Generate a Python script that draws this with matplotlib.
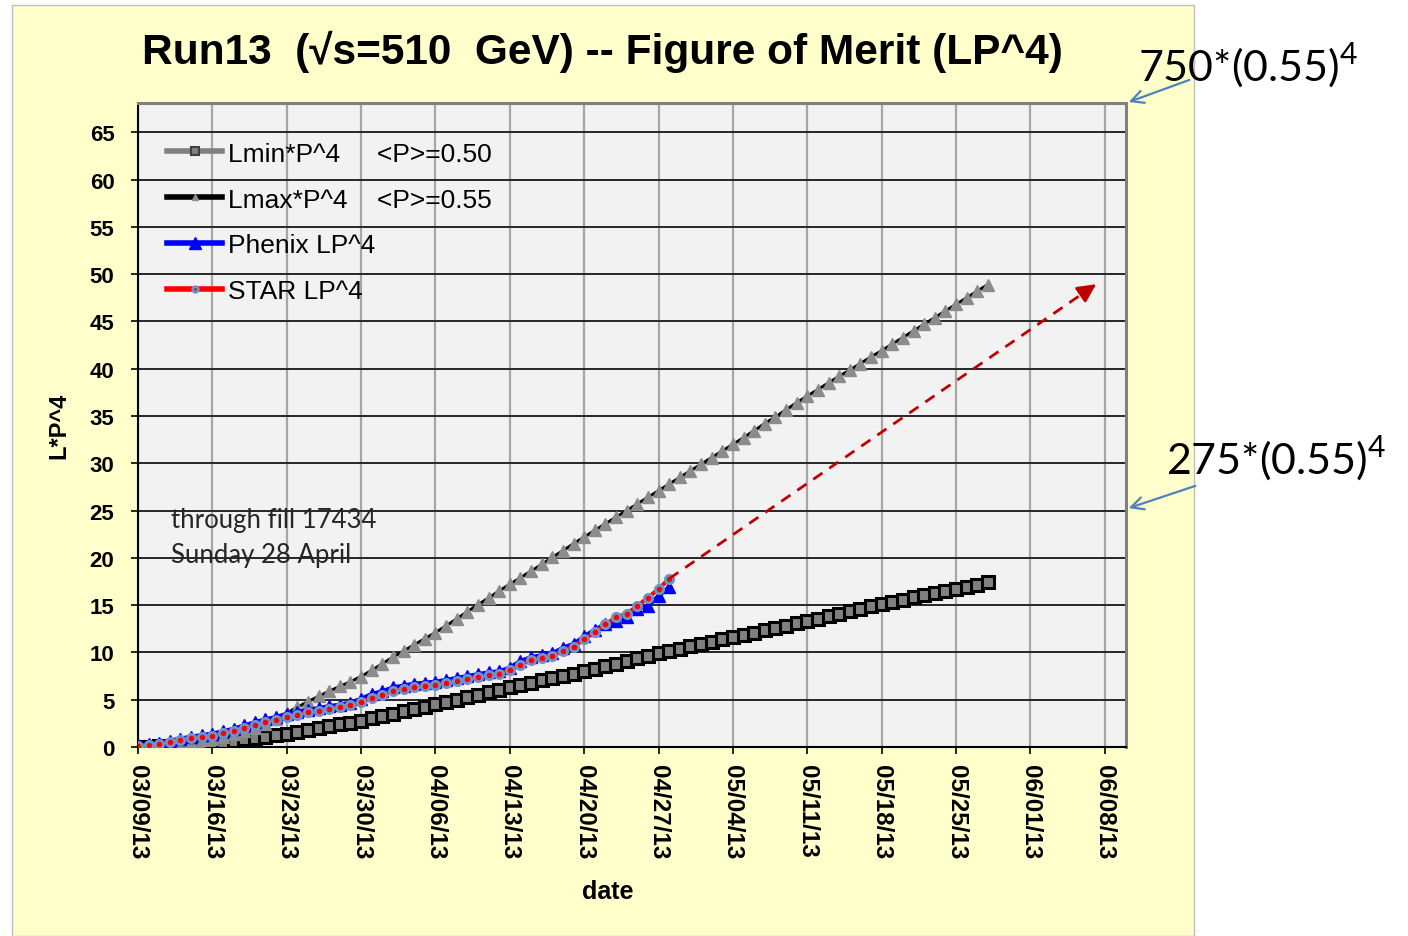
import numpy as np
import pandas as pd
import matplotlib
matplotlib.use("Agg")
import matplotlib.pyplot as plt
import matplotlib.dates as mdates
from matplotlib.patches import Rectangle

plt.rcParams["font.family"] = ["Liberation Sans", "DejaVu Sans"]

# data, one point per day starting 03/09/13
start = pd.Timestamp("2013-03-09")

lmin_vals = [0.00, 0.05, 0.10, 0.15, 0.22, 0.30, 0.38, 0.48,
             0.58, 0.68, 0.80, 0.92, 1.05, 1.22, 1.40,
             1.58, 1.78, 1.98, 2.18, 2.38, 2.58, 2.80,
             3.05, 3.28, 3.52, 3.78, 4.02, 4.26, 4.50,
             4.75, 5.02, 5.28, 5.54, 5.80, 6.05, 6.30,
             6.55, 6.80, 7.04, 7.28, 7.52, 7.76, 8.00,
             8.28, 8.55, 8.82, 9.10, 9.38, 9.64, 9.90,
             10.15, 10.40, 10.65, 10.90, 11.14, 11.38, 11.60,
             11.85, 12.10, 12.35, 12.60, 12.84, 13.08, 13.30,
             13.56, 13.82, 14.08, 14.34, 14.60, 14.86, 15.10,
             15.34, 15.58, 15.82, 16.05, 16.28, 16.50, 16.70,
             16.94, 17.18, 17.40]

lmax_vals = [0.00, 0.10, 0.20, 0.32, 0.45, 0.58, 0.72, 0.88,
             1.10, 1.35, 1.65, 2.00, 2.40, 2.95, 3.60,
             4.20, 4.80, 5.35, 5.90, 6.40, 6.90, 7.45,
             8.10, 8.80, 9.50, 10.15, 10.80, 11.45, 12.10,
             12.80, 13.55, 14.30, 15.05, 15.75, 16.50, 17.20,
             17.90, 18.60, 19.30, 20.05, 20.75, 21.50, 22.20,
             22.90, 23.60, 24.30, 25.00, 25.70, 26.40, 27.10,
             27.80, 28.50, 29.20, 29.90, 30.60, 31.30, 32.00,
             32.70, 33.45, 34.20, 34.90, 35.65, 36.40, 37.10,
             37.80, 38.50, 39.20, 39.85, 40.55, 41.25, 41.90,
             42.60, 43.30, 44.00, 44.70, 45.40, 46.10, 46.80,
             47.50, 48.20, 48.90]

phenix_vals = [0.18, 0.30, 0.46, 0.68, 0.88, 1.10, 1.25, 1.42,
               1.66, 1.94, 2.28, 2.62, 2.92, 3.18, 3.50,
               3.70, 3.92, 4.12, 4.32, 4.48, 4.70, 5.10,
               5.60, 5.90, 6.30, 6.50, 6.70, 6.80, 6.90,
               7.10, 7.30, 7.50, 7.70, 7.90, 8.00, 8.40,
               9.10, 9.50, 9.70, 9.90, 10.50, 10.90, 11.70,
               12.40, 13.00, 13.30, 13.70, 14.60, 14.90, 16.00,
               16.90]

star_vals = [0.10, 0.20, 0.35, 0.55, 0.75, 0.95, 1.05, 1.20,
             1.45, 1.70, 2.00, 2.35, 2.65, 2.90, 3.20,
             3.40, 3.65, 3.85, 4.05, 4.20, 4.40, 4.80,
             5.15, 5.50, 5.90, 6.15, 6.35, 6.50, 6.60,
             6.80, 7.00, 7.20, 7.40, 7.60, 7.75, 8.10,
             8.70, 9.20, 9.45, 9.65, 10.20, 10.60, 11.40,
             12.20, 13.00, 13.70, 14.10, 14.90, 15.80, 16.70,
             17.80]

# projection arrow (day offset, value)
proj_days = [50, 90.4]
proj_vals = [17.8, 49.1]

lumi_hi = 750 * 0.55 ** 4
lumi_lo = 275 * 0.55 ** 4

d_long = pd.date_range(start, periods=len(lmin_vals), freq="D")
d_short = pd.date_range(start, periods=len(phenix_vals), freq="D")
d_proj = [start + pd.Timedelta(days=d) for d in proj_days]

W, H = 1408, 937
fig = plt.figure(figsize=(W / 100, H / 100), dpi=100)
fig.patch.set_facecolor("white")
fig.patches.append(Rectangle((12 / W, 0), (1194 - 12) / W, 1 - 6 / H,
                             transform=fig.transFigure, facecolor="#FFFFCC",
                             edgecolor="#BFBFBF", linewidth=1, zorder=-5))

ax = fig.add_axes([138 / W, 1 - 748 / H, (1126 - 138) / W, (748 - 104) / H])
ax.set_zorder(2)
ax.set_facecolor("#F2F2F2")

ax.plot(d_long, lmin_vals, color="black", lw=1.5, marker="s", ms=8.5,
        mfc="#808080", mec="black", mew=2.2, label="Lmin*P^4     <P>=0.50", zorder=3)
ax.plot(d_long, lmax_vals, color="black", lw=2.2, marker="^", ms=8.5,
        mfc="#8C8C8C", mec="#8C8C8C", label="Lmax*P^4    <P>=0.55", zorder=4)
ax.plot(d_short, phenix_vals, color="#0000FF", lw=3, marker="^", ms=9,
        mfc="#0000FF", mec="#0000FF", label="Phenix LP^4", zorder=5)
ax.plot(d_short, star_vals, color="#FF0000", lw=3, marker="o", ms=6,
        mfc="#FF0000", mec="#6F93C8", mew=2, label="STAR LP^4", zorder=6)

# dashed projection with a solid head
ax.plot(d_proj, proj_vals, color="#C00000", lw=2, ls=(0, (4, 3)), zorder=6)
ax.annotate("", xy=(d_proj[1], proj_vals[1]),
            xytext=(d_proj[1] - pd.Timedelta(days=1.5), proj_vals[1] - 1.15),
            arrowprops=dict(arrowstyle="-|>,head_length=1.1,head_width=0.55",
                            color="#C00000", lw=2), zorder=7)

ax.set_xlim(start, start + pd.Timedelta(days=93))
ax.set_ylim(0, 68.1)
ax.xaxis.set_major_locator(mdates.DayLocator(interval=7))
ax.xaxis.set_major_formatter(mdates.DateFormatter("%m/%d/%y"))
ax.set_yticks(range(0, 66, 5))

ax.tick_params(axis="both", direction="out", length=5, width=1.2, colors="black")
ax.tick_params(axis="x", pad=7)
ax.tick_params(axis="y", pad=12)
for lab in ax.get_xticklabels():
    lab.set_rotation(-90)
    lab.set_fontweight("bold")
    lab.set_fontsize(17.5)
    lab.set_va("top")
for lab in ax.get_yticklabels():
    lab.set_fontweight("bold")
    lab.set_fontsize(16)

ax.yaxis.grid(True, color="#262626", lw=1.4)
ax.xaxis.grid(True, color="#A6A6A6", lw=1.6)
ax.set_axisbelow(True)
ax.spines["left"].set_color("black")
ax.spines["bottom"].set_color("black")
ax.spines["left"].set_linewidth(1.5)
ax.spines["bottom"].set_linewidth(1.5)
for s in ("top", "right"):
    ax.spines[s].set_color("#808080")
    ax.spines[s].set_linewidth(2.2)

ax.set_xlabel("date", fontsize=18, fontweight="bold", labelpad=14)
ax.xaxis.set_label_coords(0.475, -0.205)
ax.set_ylabel("L*P^4", fontsize=17, fontweight="bold", labelpad=14)

leg = ax.legend(loc="upper left", bbox_to_anchor=(0.0, 0.985), frameon=False,
                fontsize=19, handlelength=2.1, handletextpad=0.2,
                labelspacing=0.83, borderaxespad=0.7)
# legend handles are drawn thicker with small markers, like the source
hl = leg.get_lines()
hl[0].set_color("#808080")
hl[0].set_markerfacecolor("#808080")
hl[0].set_markeredgecolor("#404040")
hl[0].set_markersize(6)
hl[0].set_markeredgewidth(1.5)
hl[1].set_markersize(5)
hl[2].set_markersize(8)
hl[3].set_markersize(4)
for h in hl:
    h.set_linewidth(4)

ax.text(0.033, 0.372, "through fill 17434\nSunday 28 April", transform=ax.transAxes,
        fontsize=18.5, family="Lato", va="top", linespacing=1.5, color="#262626")

fig.text(602 / W, 1 - 52 / H, "Run13  (\u221As=510  GeV) -- Figure of Merit (LP^4)",
         ha="center", va="center", fontsize=30.5, fontweight="bold")

fig.text(1138 / W, 1 - 65 / H, "750*(0.55)$^\\mathregular{4}$", ha="left",
         va="center", fontsize=31, family="Lato")
fig.text(1166 / W, 1 - 458 / H, "275*(0.55)$^\\mathregular{4}$", ha="left",
         va="center", fontsize=31, family="Lato")

blue_arrow = dict(arrowstyle="->,head_length=0.9,head_width=0.45", color="#4F81BD", lw=1.6)
ax.annotate("", xy=(1.0, 1.0), xycoords="axes fraction",
            xytext=(1192, H - 80), textcoords="figure pixels", arrowprops=blue_arrow,
            annotation_clip=False)
ax.annotate("", xy=(1.0, lumi_lo), xycoords=("axes fraction", "data"),
            xytext=(1198, H - 486), textcoords="figure pixels", arrowprops=blue_arrow,
            annotation_clip=False)

fig.savefig("out.png", dpi=100)
